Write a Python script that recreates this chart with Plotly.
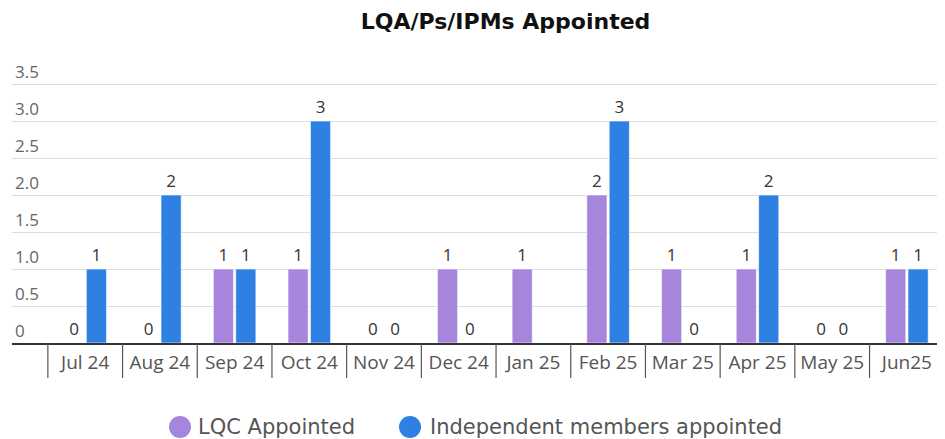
import plotly.graph_objects as go

categories = ["Jul 24", "Aug 24", "Sep 24", "Oct 24", "Nov 24", "Dec 24",
              "Jan 25", "Feb 25", "Mar 25", "Apr 25", "May 25", "Jun25"]
lqc_appointed = [0, 0, 1, 1, 0, 1, 1, 2, 1, 1, 0, 1]
independent_appointed = [1, 2, 1, 3, 0, 0, None, 3, 0, 2, 0, 1]
y_ticks = [0, 0.5, 1.0, 1.5, 2.0, 2.5, 3.0, 3.5]
y_tick_text = ["0", "0.5", "1.0", "1.5", "2.0", "2.5", "3.0", "3.5"]
series_names = ["LQC Appointed", "Independent members appointed"]

PURPLE = "#A685DC"
BLUE = "#2F80E3"
FONT = "Open Sans"
colors = [PURPLE, BLUE]

fig = go.Figure()
x_idx = list(range(len(categories)))

for name, vals, col in zip(series_names, [lqc_appointed, independent_appointed], colors):
    fig.add_trace(go.Bar(
        x=x_idx, y=vals, name=name, showlegend=False,
        marker=dict(color=col, line=dict(color="rgba(255,255,255,0.6)", width=1)),
        text=[("" if v is None else str(v)) for v in vals],
        textposition="outside", cliponaxis=False,
        textfont=dict(family=FONT, size=17, color="#333333"),
    ))

# figure is drawn 8px inside the page; plot area spans y 32..335 in figure px (74 px per unit)
L_M, PLOT_W, PLOT_BOTTOM, PLOT_H = 4, 933, 335, 303


def px_x(fx):
    return (fx - L_M) / PLOT_W


def px_y(fy):
    return (PLOT_BOTTOM - fy) / PLOT_H


shapes = []
for i in range(len(categories) + 1):
    shapes.append(dict(type="line", xref="x", yref="paper",
                       x0=i - 0.5, x1=i - 0.5, y0=0, y1=-35 / PLOT_H,
                       line=dict(color="#555555", width=1.2)))

# custom legend (large round swatches)
annotations = []
legend_pos = [(172, 188), (402, 420)]
for (cx, tx), name, col in zip(legend_pos, series_names, colors):
    shapes.append(dict(type="circle", xref="paper", yref="paper",
                       xsizemode="pixel", ysizemode="pixel",
                       xanchor=px_x(cx), yanchor=px_y(419),
                       x0=-11, x1=11, y0=-11, y1=11,
                       fillcolor=col, line=dict(width=0)))
    annotations.append(dict(text=name, xref="paper", yref="paper",
                            x=px_x(tx), y=px_y(419), xanchor="left", yanchor="middle",
                            showarrow=False,
                            font=dict(family="DejaVu Sans", size=21, color="#555555")))

fig.update_layout(
    width=937, height=445,
    margin=dict(l=L_M, r=0, t=32, b=110),
    paper_bgcolor="white", plot_bgcolor="white",
    showlegend=False,
    title=dict(text="<b>LQA/Ps/IPMs Appointed</b>", x=0.531, xanchor="center",
               y=1 - 13 / 445, yanchor="middle",
               font=dict(family="DejaVu Sans", size=22, color="#111111")),
    barmode="group", bargap=0.4, bargroupgap=0.1,
    shapes=shapes, annotations=annotations,
    xaxis=dict(
        tickmode="array", tickvals=x_idx, ticktext=categories,
        range=[-0.98, 11.51], showgrid=False, zeroline=False,
        showline=True, linecolor="#333333", linewidth=2,
        ticks="", tickfont=dict(family=FONT, size=19, color="#555555"),
        ticklabelstandoff=1,
    ),
    yaxis=dict(
        range=[0, PLOT_H / 74], tickvals=y_ticks, ticktext=y_tick_text,
        showgrid=True, gridcolor="#DDDDDD", gridwidth=1,
        zeroline=False, showline=False,
        ticklabelposition="inside top",
        tickfont=dict(family=FONT, size=17, color="#666666"),
    ),
)

fig.write_html("out.html")
